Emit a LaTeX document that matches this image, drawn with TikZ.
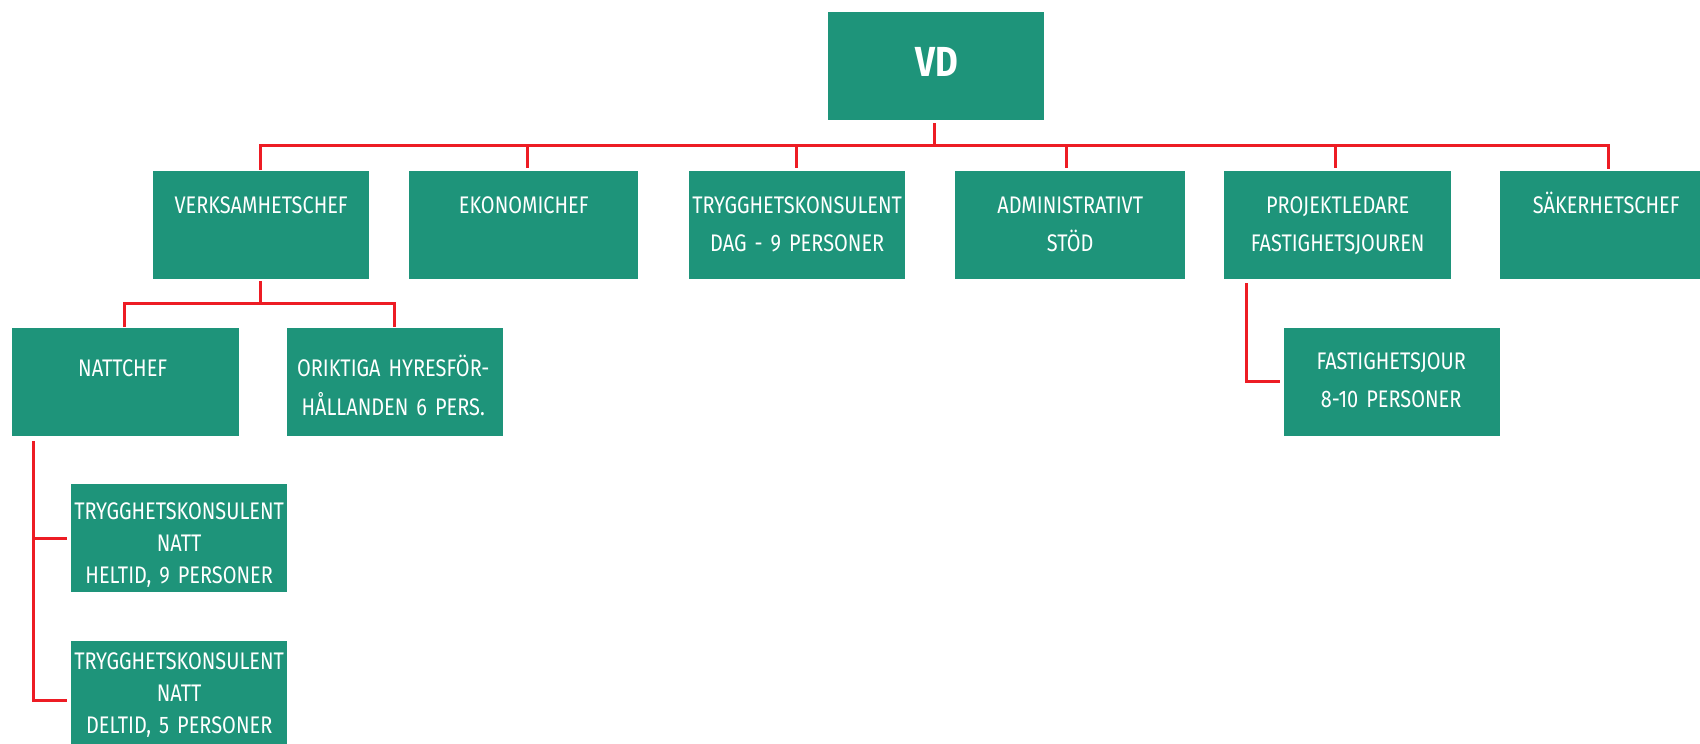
\documentclass[tikz,border=0pt]{standalone}
\usepackage{fontspec}
\setmainfont[FakeStretch=0.83, WordSpace=0.5]{Fira Sans}
\usetikzlibrary{calc}
\definecolor{boxgreen}{RGB}{30,148,122}
\definecolor{linered}{RGB}{237,28,36}
\tikzset{
  box/.style={fill=boxgreen, inner sep=0pt, anchor=north west, minimum height=108pt},
  lbl/.style={text=white, anchor=base, inner sep=0pt, align=center, text width=240pt,
              font=\fontsize{24}{38.5}\selectfont},
  lbltight/.style={lbl, font=\fontsize{24}{32.3}\selectfont},
  conn/.style={draw=linered, line width=3pt},
}
\begin{document}
\begin{tikzpicture}[x=1pt,y=-1pt]
\useasboundingbox (0,0) rectangle (1700,744);
% boxes
\node[box, minimum width=216pt] (vd) at (828,12) {};
\node[box, minimum width=216pt] (verk) at (153,171) {};
\node[box, minimum width=229pt] (ekon) at (409,171) {};
\node[box, minimum width=216pt] (tdag) at (689,171) {};
\node[box, minimum width=230pt] (adm) at (955,171) {};
\node[box, minimum width=227pt] (proj) at (1224,171) {};
\node[box, minimum width=216pt] (sak) at (1500,171) {};
\node[box, minimum width=227pt] (natt) at (12,328) {};
\node[box, minimum width=216pt] (orik) at (287,328) {};
\node[box, minimum width=216pt] (fast) at (1284,328) {};
\node[box, minimum width=216pt] (tk1) at (71,484) {};
\node[box, minimum width=216pt] (tk2) at (71,641) {};
% texts
\node[lbl, font=\fontsize{42}{42}\selectfont\bfseries] (vdt) at ($(vd.north)+(1,64)$) {VD};
\node[lbl] (verkt) at ($(verk.north)+(0,42.3)$) {VERKSAMHETSCHEF};
\node[lbl] (ekont) at ($(ekon.north)+(0,42.3)$) {EKONOMICHEF};
\node[lbl] (tdagt) at ($(tdag.north)+(0,42.3)$) {TRYGGHETSKONSULENT\\DAG - 9 PERSONER};
\node[lbl] (admt) at ($(adm.north)+(0,42.3)$) {ADMINISTRATIVT\\STÖD};
\node[lbl] (projt) at ($(proj.north)+(0,42.3)$) {PROJEKTLEDARE\\FASTIGHETSJOUREN};
\node[lbl] (sakt) at ($(sak.north)+(-2,42.3)$) {SÄKERHETSCHEF};
\node[lbl] (nattt) at ($(natt.north)+(-3,48.7)$) {NATTCHEF};
\node[lbl] (orikt) at ($(orik.north)+(-2,48.7)$) {ORIKTIGA HYRESFÖR-\\HÅLLANDEN 6 PERS.};
\node[lbl] (fastt) at ($(fast.north)+(-1,41.3)$) {FASTIGHETSJOUR\\8-10 PERSONER};
\node[lbltight] (tk1t) at ($(tk1.north)+(0,35.3)$) {TRYGGHETSKONSULENT\\NATT\\HELTID, 9 PERSONER};
\node[lbltight] (tk2t) at ($(tk2.north)+(0,28.3)$) {TRYGGHETSKONSULENT\\NATT\\DELTID, 5 PERSONER};
% bus coordinates
\coordinate (b1) at (260,145);
\coordinate (b2) at (527,145);
\coordinate (b3) at (796,145);
\coordinate (b4) at (1066,145);
\coordinate (b5) at (1335,145);
\coordinate (b6) at (1608,145);
\coordinate (vb) at (260,303);
\coordinate (nl) at (33,441);
\coordinate (fl) at (1246,283);
% connectors
\draw[conn] (vd.south -| 934,0) ++(0,3) -- (b1 -| 934,0);
\draw[conn, shorten >=1pt] (b1 |- verk.north) ++(0,-1) -- (b1) -- (b6) -- ($(b6 |- sak.north)+(0,-1)$);
\draw[conn, shorten >=3pt] (b2) -- (b2 |- ekon.north);
\draw[conn, shorten >=3pt] (b3) -- (b3 |- tdag.north);
\draw[conn, shorten >=3pt] (b4) -- (b4 |- adm.north);
\draw[conn, shorten >=3pt] (b5) -- (b5 |- proj.north);
\draw[conn] ($(vb |- verk.south)+(0,2)$) -- (vb);
\draw[conn] ($(natt.north -| 124,0)+(0,-1)$) |- (vb) -| ($(orik.north -| 394,0)+(0,-1)$);
\draw[conn, shorten >=4pt] (nl) |- (tk1.west);
\draw[conn, shorten >=4pt] (nl) |- ($(tk2.west |- 0,700)$);
\draw[conn, shorten >=4pt] (fl) |- ($(fast.west |- 0,381)$);
\end{tikzpicture}
\end{document}
